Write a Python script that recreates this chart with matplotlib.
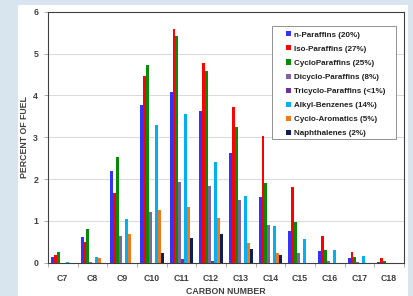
import numpy as np
import matplotlib
matplotlib.use("Agg")
from matplotlib import pyplot as plt
from matplotlib.patches import Rectangle

# carbon number groups
categories = ["C7", "C8", "C9", "C10", "C11", "C12", "C13", "C14", "C15", "C16", "C17", "C18"]

# percent of fuel
n_paraffins = [0.13, 0.61, 2.19, 3.77, 4.08, 3.63, 2.62, 1.57, 0.76, 0.27, 0.12, 0.02]
iso_paraffins = [0.18, 0.49, 1.66, 4.46, 5.58, 4.78, 3.73, 3.04, 1.82, 0.63, 0.26, 0.11]
cyclo_paraffins = [0.26, 0.81, 2.53, 4.73, 5.43, 4.59, 3.25, 1.90, 0.97, 0.30, 0.13, 0.05]
dicyclo_paraffins = [0.0, 0.02, 0.65, 1.20, 1.94, 1.83, 1.49, 0.89, 0.22, 0.03, 0.02, 0.0]
tricyclo_paraffins = [0.0, 0.0, 0.0, 0.0, 0.10, 0.04, 0.0, 0.0, 0.0, 0.0, 0.0, 0.0]
alkyl_benzenes = [0.01, 0.13, 1.05, 3.29, 3.55, 2.40, 1.60, 0.87, 0.57, 0.30, 0.15, 0.0]
cyclo_aromatics = [0.0, 0.11, 0.69, 1.26, 1.33, 1.08, 0.47, 0.24, 0.0, 0.0, 0.0, 0.0]
naphthalenes = [0.0, 0.0, 0.0, 0.22, 0.58, 0.69, 0.33, 0.18, 0.0, 0.0, 0.0, 0.0]

series = [
    ("n-Paraffins (20%)", n_paraffins, "#3333FF"),
    ("Iso-Paraffins (27%)", iso_paraffins, "#FF0000"),
    ("CycloParaffins (25%)", cyclo_paraffins, "#078A07"),
    ("Dicyclo-Paraffins (8%)", dicyclo_paraffins, "#8064A2"),
    ("Tricyclo-Paraffins (<1%)", tricyclo_paraffins, "#7030A0"),
    ("Alkyl-Benzenes (14%)", alkyl_benzenes, "#00B0F0"),
    ("Cyclo-Aromatics (5%)", cyclo_aromatics, "#F07A1A"),
    ("Naphthalenes (2%)", naphthalenes, "#0B1F5C"),
]

plt.rcParams['font.family'] = ['Liberation Sans', 'DejaVu Sans']
text_col = "#404040"

fig = plt.figure(figsize=(4.13, 2.96), dpi=100)
fig.patch.set_facecolor("#D8E4EE")
# white slide panel behind the chart
panel = Rectangle((18 / 413, 0), 390 / 413, 291 / 296, transform=fig.transFigure,
                  facecolor="white", edgecolor="none", zorder=-10)
fig.patches.append(panel)

ax = fig.add_axes([0.116, 0.1125, 0.862, 0.848])
ax.set_facecolor("white")

x = np.arange(len(categories))
w = 0.1
for i, (name, vals, col) in enumerate(series):
    ax.bar(x + (i - 3.5) * w, vals, width=w, color=col, label=name, zorder=3, linewidth=0)

ax.set_xlim(-0.5, len(categories) - 0.5)
ax.set_ylim(0, 6)
ax.set_yticks(range(7))
ax.set_xticks(x)
ax.set_xticklabels(categories)
ax.set_xticks(np.arange(-0.5, len(categories), 1.0), minor=True)
ax.tick_params(axis="x", which="major", length=0, pad=8, labelsize=6.3, labelcolor=text_col)
ax.tick_params(axis="x", which="minor", length=3, color="#A0A0A0", width=0.6)
ax.tick_params(axis="y", length=3, color="#A0A0A0", width=0.6, labelsize=6.3, labelcolor=text_col, pad=4)
for lab in ax.get_xticklabels() + ax.get_yticklabels():
    lab.set_fontweight("bold")

ax.grid(axis="y", color="#D9D9D9", linewidth=0.7, zorder=0)
for s in ax.spines.values():
    s.set_color("#404040")
    s.set_linewidth(0.8)

ax.set_xlabel("CARBON NUMBER", fontsize=6.3, fontweight="bold", color=text_col, labelpad=3)
ax.set_ylabel("PERCENT OF FUEL", fontsize=6.3, fontweight="bold", color=text_col, labelpad=3)

# legend box drawn separately (wide side padding like the original)
box = Rectangle((0.629, 0.493), 0.349, 0.45, transform=ax.transAxes, facecolor="white",
                edgecolor="#808080", linewidth=0.6, zorder=5)
ax.add_patch(box)
leg = ax.legend(loc="upper left", bbox_to_anchor=(0.668, 0.922), frameon=False,
                handlelength=0.6, handleheight=0.6, handletextpad=0.4,
                labelspacing=0.83, borderpad=0, borderaxespad=0,
                prop={"weight": "bold", "size": 5.8})
leg.set_zorder(6)
for t in leg.get_texts():
    t.set_color("#202020")

fig.savefig("out.png", dpi=100, facecolor=fig.get_facecolor())
